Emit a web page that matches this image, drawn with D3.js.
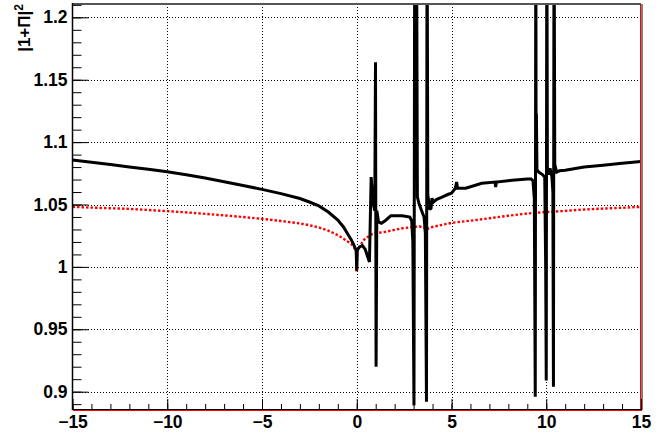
<!DOCTYPE html>
<html>
<head>
<meta charset="utf-8">
<script src="https://cdn.jsdelivr.net/npm/d3@7"></script>
<style>
  html, body { margin: 0; padding: 0; background: #fff; }
  svg { display: block; }
  text { font-family: "Liberation Sans", Arial, sans-serif; font-weight: bold; }
</style>
</head>
<body>
<svg id="chart" width="661" height="434"></svg>
<script>
// ---- Data ----
const blackX = [-15, -14, -13, -12, -11, -10, -9, -8, -7, -6, -5, -4, -3, -2.5, -2, -1.5, -1, -0.7, -0.5, -0.3, -0.15, -0.03, 0, 0.03, 0.15, 0.3, 0.45, 0.58, 0.67, 0.76, 0.85, 0.95, 0.99, 1.02, 1.06, 1.15, 1.3, 1.5, 1.8, 2.1, 2.4, 2.8, 2.9, 2.96, 3.02, 3.06, 3.15, 3.2, 3.3, 3.45, 3.55, 3.62, 3.68, 3.71, 3.75, 3.85, 3.92, 3.97, 4.05, 4.2, 4.5, 4.8, 5.0, 5.2, 5.27, 5.32, 5.75, 6.6, 7.3, 7.33, 7.37, 8.2, 9.0, 9.2, 9.3, 9.37, 9.42, 9.45, 9.465, 9.48, 9.51, 9.6, 9.8, 9.92, 9.97, 10.0, 10.03, 10.06, 10.12, 10.2, 10.3, 10.35, 10.38, 10.41, 10.45, 10.55, 10.7, 11, 12, 13, 14, 15];
const blackY = [1.0856, 1.0838, 1.0820, 1.0800, 1.0782, 1.0762, 1.0738, 1.0712, 1.0683, 1.0653, 1.0621, 1.0587, 1.0548, 1.0520, 1.0489, 1.0440, 1.0375, 1.0320, 1.0270, 1.0220, 1.0175, 1.0130, 0.9970, 1.0135, 1.0160, 1.0170, 1.0140, 1.0080, 1.0040, 1.0720, 1.0520, 1.0450, 1.1640, 0.9200, 1.0450, 1.0360, 1.0350, 1.0370, 1.0410, 1.0410, 1.0410, 1.0400, 1.0370, 1.0200, 0.8890, 1.3000, 1.3000, 1.0560, 1.0500, 1.0440, 1.0400, 1.0270, 0.8920, 1.3000, 1.0580, 1.0460, 1.0470, 1.0550, 1.0520, 1.0540, 1.0560, 1.0580, 1.0590, 1.0630, 1.0680, 1.0630, 1.0630, 1.0670, 1.0680, 1.0640, 1.0680, 1.0695, 1.0705, 1.0705, 1.0690, 1.0550, 0.8960, 1.3000, 1.0800, 1.1230, 1.0780, 1.0760, 1.0740, 1.0720, 1.0000, 0.9090, 1.3000, 1.0800, 1.0740, 1.0790, 1.0720, 1.0600, 0.9040, 1.3000, 1.0820, 1.0760, 1.0770, 1.0775, 1.0800, 1.0815, 1.0830, 1.0845];

const redX = [-15, -14, -13, -12, -11, -10, -9, -8, -7, -6, -5, -4, -3, -2.5, -2, -1.5, -1, -0.7, -0.5, -0.3, -0.2, -0.1, -0.03, 0, 0.03, 0.1, 0.2, 0.4, 0.76, 1.0, 1.46, 2.0, 2.43, 3.0, 3.3, 3.6, 3.7, 3.8, 4.0, 4.5, 5, 6, 7, 8, 9, 10, 10.8, 12, 13, 14, 15];
const redY = [1.0481, 1.0475, 1.0470, 1.0465, 1.0456, 1.0447, 1.0437, 1.0425, 1.0413, 1.0400, 1.0385, 1.0368, 1.0348, 1.0334, 1.0316, 1.0290, 1.0254, 1.0226, 1.0206, 1.0185, 1.0166, 1.0145, 1.0120, 0.9960, 1.0125, 1.0150, 1.0175, 1.0220, 1.0260, 1.0270, 1.0280, 1.0297, 1.0310, 1.0320, 1.0325, 1.0310, 1.0297, 1.0310, 1.0320, 1.0337, 1.0353, 1.0370, 1.0390, 1.0410, 1.0428, 1.0440, 1.0447, 1.0460, 1.0467, 1.0474, 1.0481];

const xTickLabels = [-15, -10, -5, 0, 5, 10, 15];
const yTickLabels = [0.9, 0.95, 1, 1.05, 1.1, 1.15, 1.2];
const yTitle = "|1+Π|";
const yTitleSup = "2";

// ---- Layout ----
const svg = d3.select("#chart");
const pL = 72.5, pR = 641, pT = 4, pB = 410;

const x = d3.scaleLinear().domain([-15, 15]).range([pL, pR]);
const y = d3.scaleLinear().domain([0.8853, 1.2107]).range([pB, pT]);

svg.append("defs").append("clipPath").attr("id", "plotclip")
  .append("rect").attr("x", pL).attr("y", pT)
  .attr("width", pR - pL).attr("height", pB - pT);

// grid
const grid = svg.append("g").attr("stroke", "#000").attr("stroke-width", 1)
  .attr("stroke-dasharray", "1,2").attr("shape-rendering", "crispEdges");
xTickLabels.filter(v => v > -15 && v < 15).forEach(v => {
  grid.append("line").attr("x1", Math.round(x(v)) + 0.5).attr("x2", Math.round(x(v)) + 0.5)
    .attr("y1", pT).attr("y2", pB);
});
yTickLabels.forEach(v => {
  grid.append("line").attr("x1", pL).attr("x2", pR)
    .attr("y1", Math.round(y(v)) + 0.5).attr("y2", Math.round(y(v)) + 0.5);
});

// data lines
const line = d3.line().x(d => x(d[0])).y(d => y(d[1]));
const plot = svg.append("g").attr("clip-path", "url(#plotclip)");

plot.append("path")
  .datum(redX.map((v, i) => [v, redY[i]]))
  .attr("d", line)
  .attr("fill", "none").attr("stroke", "#ff0000").attr("stroke-width", 2.4)
  .attr("stroke-dasharray", "2.5,2");

plot.append("path")
  .datum(blackX.map((v, i) => [v, blackY[i]]))
  .attr("d", line)
  .attr("fill", "none").attr("stroke", "#000").attr("stroke-width", 3)
  .attr("stroke-linejoin", "miter").attr("stroke-miterlimit", 2);

// frame
svg.append("line").attr("x1", pL).attr("x2", pR).attr("y1", pT).attr("y2", pT)
  .attr("stroke", "#555").attr("stroke-width", 2);
svg.append("line").attr("x1", pR + 1).attr("x2", pR + 1).attr("y1", pT).attr("y2", pB)
  .attr("stroke", "#000").attr("stroke-width", 1);
svg.append("line").attr("x1", pR - 0.5).attr("x2", pR - 0.5).attr("y1", pT).attr("y2", pB)
  .attr("stroke", "#ff0000").attr("stroke-width", 1);

// axes
const yMinor = d3.range(0, 33).map(i => +(0.89 + i * 0.01).toFixed(2)).filter(v => v >= 0.8853 && v <= 1.2107);
const xMinor = d3.range(-15, 16);

const yAxis = d3.axisRight(y).tickValues(yMinor).tickSize(9).tickFormat("");
svg.append("g").attr("transform", `translate(${pL},0)`).call(yAxis)
  .call(g => g.select(".domain").remove())
  .call(g => g.selectAll("line").attr("stroke", "#000").attr("stroke-width", 1));
const yAxisMajor = d3.axisLeft(y).tickValues(yTickLabels).tickSize(0).tickPadding(5)
  .tickFormat(d => d3.format("")(d));
svg.append("g").attr("transform", `translate(${pL},0)`).call(yAxisMajor)
  .call(g => g.select(".domain").remove())
  .call(g => g.selectAll("text").attr("font-size", 17.5).attr("fill", "#000")
    .attr("font-family", "Liberation Sans, Arial, sans-serif").attr("font-weight", "bold"));
const yMajorTicks = d3.axisRight(y).tickValues(yTickLabels).tickSize(16).tickFormat("");
svg.append("g").attr("transform", `translate(${pL},0)`).call(yMajorTicks)
  .call(g => g.select(".domain").remove())
  .call(g => g.selectAll("line").attr("stroke", "#000").attr("stroke-width", 1));

const xAxisMinor = d3.axisTop(x).tickValues(xMinor).tickSize(6).tickFormat("");
svg.append("g").attr("transform", `translate(0,${pB})`).call(xAxisMinor)
  .call(g => g.select(".domain").remove())
  .call(g => g.selectAll("line").attr("stroke", "#000").attr("stroke-width", 1));
const xAxisMajor = d3.axisTop(x).tickValues(xTickLabels).tickSize(11).tickFormat("");
svg.append("g").attr("transform", `translate(0,${pB})`).call(xAxisMajor)
  .call(g => g.select(".domain").remove())
  .call(g => g.selectAll("line").attr("stroke", "#000").attr("stroke-width", 1));
const xAxisLabels = d3.axisBottom(x).tickValues(xTickLabels).tickSize(0).tickPadding(6)
  .tickFormat(d => d3.format("")(d));
svg.append("g").attr("transform", `translate(0,${pB})`).call(xAxisLabels)
  .call(g => g.select(".domain").remove())
  .call(g => g.selectAll("text").attr("font-size", 17.5).attr("fill", "#000")
    .attr("font-family", "Liberation Sans, Arial, sans-serif").attr("font-weight", "bold"));

// axis lines
svg.append("line").attr("x1", pL).attr("x2", pL).attr("y1", pT - 1).attr("y2", pB)
  .attr("stroke", "#000").attr("stroke-width", 1.5);
svg.append("line").attr("x1", pL).attr("x2", pR + 1).attr("y1", pB - 0.5).attr("y2", pB - 0.5)
  .attr("stroke", "#000").attr("stroke-width", 1).attr("shape-rendering", "crispEdges");
svg.append("line").attr("x1", pL).attr("x2", pR + 1).attr("y1", pB + 0.5).attr("y2", pB + 0.5)
  .attr("stroke", "#ff0000").attr("stroke-width", 1).attr("shape-rendering", "crispEdges");

// y title
const yt = svg.append("text")
  .attr("transform", `translate(30,4) rotate(-90)`)
  .attr("text-anchor", "end")
  .attr("font-size", 17).attr("fill", "#000");
yt.append("tspan").text(yTitle);
yt.append("tspan").attr("dy", -7).attr("font-size", 12).text(yTitleSup);
</script>
</body>
</html>
